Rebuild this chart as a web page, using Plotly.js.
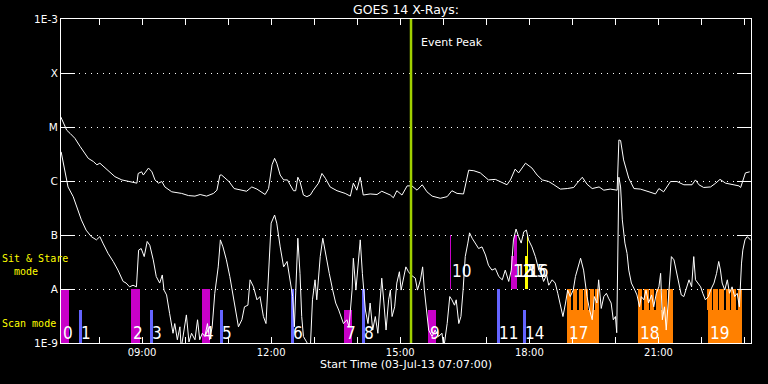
<!DOCTYPE html>
<html><head><meta charset="utf-8">
<script src="https://cdn.plot.ly/plotly-3.0.1.min.js"></script>
<style>html,body{margin:0;padding:0;background:#000;} #chart{width:768px;height:384px;}</style>
</head><body><div id="chart"></div>
<script>
// ---- GOES 14 long channel (1-8 A), time in hours of 03-Jul-13, log10 flux ----
const longT = [7.11,7.25,7.33,7.44,7.56,7.75,7.87,7.95,8.02,8.14,
8.37,8.53,8.72,8.88,8.91,8.99,9.03,9.15,9.23,9.30,
9.38,9.46,9.53,9.69,9.92,10.08,10.23,10.35,10.50,10.66,
10.74,10.81,10.85,11.02,11.14,11.32,11.43,11.55,11.67,11.86,
11.94,12.02,12.08,12.13,12.21,12.29,12.38,12.44,12.52,12.57,
12.62,12.67,12.75,12.83,12.91,12.98,13.10,13.18,13.26,13.37,
13.53,13.72,13.84,13.91,13.99,14.07,14.14,14.30,14.46,14.57,
14.69,14.77,14.84,14.92,15.04,15.16,15.27,15.39,15.51,15.62,
15.74,15.93,16.09,16.20,16.32,16.47,16.59,16.71,16.86,17.05,
17.21,17.33,17.48,17.56,17.67,17.75,17.91,18.06,18.18,18.30,
18.45,18.57,18.72,18.88,19.03,19.11,19.23,19.34,19.46,19.62,
19.73,19.88,20.04,20.08,20.12,20.19,20.31,20.43,20.58,20.78,
20.93,21.01,21.12,21.28,21.43,21.59,21.78,21.86,21.94,22.05,
22.21,22.33,22.43,22.56,22.72,22.87,22.91,23.02,23.12];
const longLog = [-4.81,-5.06,-5.12,-5.21,-5.36,-5.58,-5.64,-5.70,-5.67,-5.76,
-5.92,-5.98,-6.01,-6.04,-5.86,-5.83,-5.89,-5.76,-5.83,-5.98,
-6.04,-6.01,-6.11,-6.20,-6.23,-6.27,-6.28,-6.25,-6.28,-6.23,
-6.17,-5.89,-5.89,-6.01,-6.14,-6.18,-6.19,-6.11,-6.15,-6.25,
-6.14,-5.70,-5.58,-5.67,-5.89,-5.98,-5.98,-6.07,-6.18,-6.18,
-5.93,-6.01,-6.26,-6.29,-6.26,-6.17,-6.04,-5.86,-5.95,-6.11,
-6.18,-6.23,-6.28,-6.04,-6.17,-5.93,-6.26,-6.24,-6.25,-6.19,
-6.23,-6.26,-6.31,-6.18,-6.26,-6.09,-6.09,-6.17,-6.07,-6.20,
-6.28,-6.32,-6.29,-6.18,-6.23,-6.24,-5.80,-5.81,-5.85,-5.98,
-5.97,-6.01,-6.07,-5.98,-5.78,-5.85,-5.67,-5.76,-5.89,-5.98,
-6.01,-6.07,-6.15,-6.14,-6.12,-6.04,-5.93,-6.06,-6.14,-6.11,
-6.17,-6.15,-6.17,-5.24,-5.25,-5.61,-5.95,-6.14,-6.15,-6.20,
-6.24,-6.14,-6.20,-6.01,-6.01,-6.07,-6.07,-5.98,-6.07,-6.12,
-6.11,-6.04,-5.97,-6.04,-6.07,-6.09,-6.12,-5.85,-5.83];

// ---- GOES 14 short channel (0.5-4 A) ----
const shortT = [7.12,7.20,7.28,7.40,7.47,7.59,7.70,7.82,7.94,8.02,
8.09,8.21,8.33,8.44,8.56,8.63,8.71,8.79,8.87,8.92,
8.98,9.05,9.12,9.18,9.26,9.33,9.41,9.47,9.51,9.57,
9.64,9.72,9.76,9.82,9.88,9.91,10.03,10.09,10.15,10.23,
10.29,10.34,10.40,10.46,10.52,10.57,10.63,10.69,10.77,10.82,
10.88,10.96,11.04,11.12,11.19,11.24,11.32,11.38,11.46,11.51,
11.59,11.67,11.74,11.82,11.88,11.94,12.00,12.08,12.13,12.21,
12.29,12.37,12.44,12.50,12.54,12.57,12.62,12.67,12.71,12.75,
12.83,12.91,12.96,13.02,13.06,13.14,13.20,13.27,13.35,13.43,
13.50,13.57,13.63,13.68,13.76,13.81,13.88,13.91,13.97,14.02,
14.07,14.12,14.19,14.25,14.30,14.36,14.42,14.48,14.53,14.57,
14.62,14.67,14.73,14.77,14.81,14.87,14.92,14.98,15.02,15.08,
15.13,15.19,15.25,15.35,15.40,15.47,15.52,15.56,15.60,15.66,
15.74,15.81,15.89,15.97,16.01,16.09,16.15,16.20,16.26,16.30,
16.36,16.41,16.46,16.51,16.57,16.61,16.67,16.74,16.82,16.90,
16.98,17.05,17.13,17.21,17.29,17.37,17.44,17.52,17.58,17.63,
17.69,17.75,17.81,17.87,17.93,17.98,18.06,18.14,18.22,18.28,
18.33,18.40,18.45,18.53,18.60,18.66,18.72,18.78,18.84,18.89,
18.95,19.02,19.07,19.13,19.19,19.26,19.34,19.40,19.46,19.51,
19.57,19.61,19.67,19.73,19.79,19.84,19.90,19.95,20.00,20.03,
20.08,20.12,20.16,20.22,20.27,20.31,20.37,20.45,20.50,20.56,
20.60,20.66,20.71,20.77,20.84,20.89,20.95,21.01,21.05,21.09,
21.14,21.18,21.24,21.30,21.36,21.41,21.47,21.53,21.59,21.64,
21.71,21.77,21.82,21.86,21.92,21.98,22.03,22.09,22.16,22.21,
22.29,22.35,22.40,22.44,22.48,22.54,22.60,22.65,22.71,22.77,
22.83,22.88,22.93,22.96,23.01,23.06,23.14];
const shortLog = [-5.46,-5.80,-6.11,-6.29,-6.44,-6.72,-6.91,-7.03,-7.09,-7.03,
-7.15,-7.34,-7.49,-7.65,-7.86,-7.89,-7.96,-7.93,-7.96,-7.28,
-7.25,-7.40,-7.12,-7.19,-7.46,-7.77,-7.89,-7.74,-8.02,-8.11,
-8.45,-8.82,-8.64,-8.94,-8.70,-9.10,-8.48,-8.98,-8.82,-8.94,
-8.57,-8.94,-8.82,-8.88,-8.64,-8.94,-8.70,-8.08,-7.59,-7.09,
-7.22,-7.46,-7.77,-8.14,-8.39,-8.70,-8.57,-8.33,-8.30,-7.83,
-7.96,-8.20,-8.14,-8.51,-8.64,-7.71,-6.78,-6.63,-6.78,-7.22,
-7.59,-7.49,-7.83,-8.14,-8.70,-8.02,-7.06,-7.71,-8.51,-8.88,
-8.98,-9.10,-8.20,-7.83,-8.20,-7.40,-7.06,-7.40,-7.71,-8.02,
-8.26,-8.39,-8.51,-8.64,-8.57,-8.70,-8.02,-7.43,-8.02,-7.52,
-7.09,-7.71,-8.39,-8.64,-8.26,-8.76,-8.51,-8.82,-8.14,-7.80,
-8.26,-8.76,-8.20,-8.02,-8.51,-8.33,-7.89,-7.68,-8.02,-7.77,
-7.59,-7.68,-7.74,-7.80,-8.02,-7.83,-7.59,-8.02,-8.33,-8.76,
-8.88,-8.76,-8.88,-8.82,-9.10,-8.64,-8.14,-8.20,-8.30,-8.20,
-8.64,-8.51,-8.02,-7.40,-7.15,-6.96,-7.06,-7.15,-7.25,-7.22,
-7.37,-7.56,-7.65,-7.62,-7.77,-7.83,-7.65,-7.86,-7.65,-7.09,
-6.89,-7.03,-7.15,-6.94,-6.91,-7.09,-7.22,-7.40,-7.65,-7.71,
-7.86,-7.74,-7.93,-7.83,-7.89,-8.08,-8.33,-8.51,-8.26,-8.02,
-8.14,-8.02,-7.77,-7.62,-7.43,-7.65,-8.14,-8.39,-8.57,-8.14,
-8.26,-7.83,-8.36,-8.14,-8.08,-8.17,-8.26,-8.57,-8.51,-8.81,
-5.93,-6.11,-6.72,-7.15,-7.34,-7.65,-7.89,-8.02,-8.11,-8.33,
-8.14,-8.20,-8.02,-8.26,-8.11,-8.33,-8.08,-7.96,-7.71,-8.57,
-8.33,-8.76,-8.08,-7.40,-7.46,-7.65,-7.89,-8.11,-8.14,-8.02,
-7.83,-7.96,-7.40,-7.83,-7.89,-7.96,-8.08,-8.20,-8.14,-8.02,
-7.89,-7.71,-7.49,-7.65,-7.89,-8.02,-7.83,-8.08,-7.96,-8.14,
-8.08,-8.33,-7.52,-7.28,-7.09,-7.03,-7.09];

// ---- observation events (mode bars) ----
const eventNum = ['0','1','2','3','4','5','6','7','8','9','10','11','12','13','14','15','16','17','18','19'];
const evStart  = [7.118,7.535,8.744,9.186,10.395,10.814,12.465,13.698,14.116,15.651,16.163,17.256,17.581,17.640,17.860,17.907,17.953,18.884,20.535,22.140];
const evEnd    = [7.302,7.605,8.953,9.256,10.581,10.884,12.535,13.884,14.186,15.837,16.186,17.326,17.640,17.721,17.930,17.953,17.977,19.628,21.326,22.930];
const evBottom = [-9,-9,-9,-9,-9,-9,-9,-9,-9,-9,-8,-9,-8,-8,-9,-8,-8,-9,-9,-9];
const evTop    = [-8,-8.39,-8,-8.39,-8,-8.39,-8,-8.39,-8,-8.39,-7,-8,-7.39,-7,-8.39,-7.39,-7,-8.39,-8.39,-8.39];
const evColor  = ['#c800c8','#6464ff','#c800c8','#6464ff','#c800c8','#6464ff','#6464ff','#c800c8','#6464ff','#c800c8',
                  '#c800c8','#6464ff','#c800c8','#c800c8','#6464ff','#ffff00','#ffff00','#ff8000','#ff8000','#ff8000'];
const evLabelY = [-8.81,-8.81,-8.81,-8.81,-8.81,-8.81,-8.81,-8.81,-8.81,-8.81,-7.67,-8.81,-7.67,-7.67,-8.81,-7.67,-7.67,-8.81,-8.81,-8.81];
// raster exposures inside the orange blocks
const toothT = [18.930,19.060,19.191,19.321,19.451,19.581,
                20.581,20.721,20.860,21.000,21.140,21.279,
                22.186,22.326,22.465,22.605,22.744,22.884];
const peakTime = 15.25;

// ---- axes ----
const levelVals = [-9,-8,-7,-6,-5,-4,-3];
const levelText = ['1E-9','A','B','C','M','X','1E-3'];
const hourTicks = [8,9,10,11,12,13,14,15,16,17,18,19,20,21,22,23];
const hourText  = ['','09:00','','','12:00','','','15:00','','','18:00','','','21:00','',''];

const evX = evStart.map((s,i)=>(s+evEnd[i])/2);
const evW = evStart.map((s,i)=>evEnd[i]-s);
const evH = evTop.map((t,i)=>t-evBottom[i]);

const traces = [
  {type:'bar', x:evX, y:evH, base:evBottom, width:evW,
   marker:{color:evColor, line:{width:0}}, hoverinfo:'skip'},
  {type:'bar', x:toothT, y:toothT.map(()=>0.39), base:toothT.map(()=>-8.39), width:0.095,
   marker:{color:'#ff8000', line:{width:0}}, hoverinfo:'skip'},
  {type:'scatter', mode:'lines', x:longT, y:longLog, line:{color:'#ffffff', width:1}},
  {type:'scatter', mode:'lines', x:shortT, y:shortLog, line:{color:'#ffffff', width:1}},
  {type:'scatter', mode:'lines', x:[peakTime,peakTime], y:[-3,-9], line:{color:'#a0d000', width:2.5}}
];

const monoFont = 'DejaVu Sans Mono, Liberation Mono, monospace';
const annotations = eventNum.map((t,i)=>({
  x:evStart[i], y:evLabelY[i], xref:'x', yref:'y', text:t, showarrow:false,
  xanchor:'left', yanchor:'middle', xshift:0,
  font:{family:'Liberation Sans Narrow, DejaVu Sans Condensed, Liberation Sans, sans-serif', size:17, color:'#ffffff'}
}));
annotations.push({x:peakTime, y:-3.44, xref:'x', yref:'y', text:'Event Peak', showarrow:false,
  xanchor:'left', yanchor:'middle', xshift:8, font:{size:11, color:'#ffffff'}});
annotations.push({x:0, y:-7.44, xref:'paper', yref:'y', text:'Sit & Stare', showarrow:false,
  xanchor:'left', yanchor:'middle', xshift:-61, font:{family:monoFont, size:10, color:'#ffff00'}});
annotations.push({x:0, y:-7.67, xref:'paper', yref:'y', text:'mode', showarrow:false,
  xanchor:'left', yanchor:'middle', xshift:-49, font:{family:monoFont, size:10, color:'#ffff00'}});
annotations.push({x:0, y:-8.64, xref:'paper', yref:'y', text:'Scan mode', showarrow:false,
  xanchor:'left', yanchor:'middle', xshift:-61, font:{family:monoFont, size:10, color:'#ffff00'}});

const layout = {
  width:768, height:384,
  paper_bgcolor:'#000000', plot_bgcolor:'#000000',
  margin:{l:61, r:17, t:19, b:41},
  font:{family:'DejaVu Sans, sans-serif', color:'#ffffff', size:10},
  showlegend:false, barmode:'overlay', bargap:0,
  title:{text:'GOES 14 X-Rays:', font:{size:12.5, color:'#ffffff'}, x:0.5, xref:'paper', xanchor:'center',
         y:0.974, yref:'container', yanchor:'middle'},
  xaxis:{range:[7.1167,23.15], tickmode:'array', tickvals:hourTicks, ticktext:hourText,
         ticks:'inside', ticklen:6, tickwidth:1, tickcolor:'#ffffff',
         showline:true, linecolor:'#ffffff', linewidth:1, mirror:'ticks',
         showgrid:false, zeroline:false, tickfont:{size:10, color:'#ffffff'},
         title:{text:'Start Time (03-Jul-13 07:07:00)', font:{size:11, color:'#ffffff'}, standoff:3}},
  yaxis:{range:[-9,-3], tickmode:'array', tickvals:levelVals, ticktext:levelText,
         ticks:'inside', ticklen:14, tickwidth:1, tickcolor:'#ffffff',
         showline:true, linecolor:'#ffffff', linewidth:1, mirror:'ticks',
         showgrid:true, gridcolor:'#ffffff', gridwidth:1, griddash:'1px,5px',
         zeroline:false, tickfont:{size:10.5, color:'#ffffff'}},
  annotations:annotations
};

Plotly.newPlot('chart', traces, layout, {staticPlot:true, displayModeBar:false});
</script>
</body></html>
